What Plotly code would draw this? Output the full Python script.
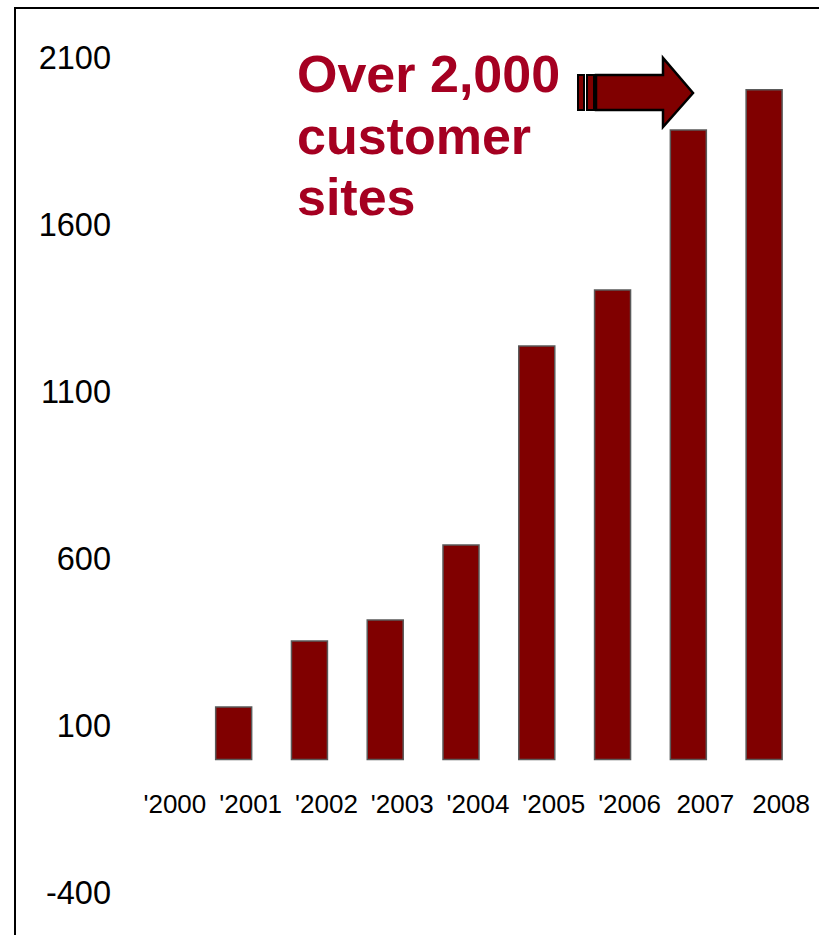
import plotly.graph_objects as go

years = ["'2000", "'2001", "'2002", "'2003", "'2004", "'2005", "'2006", "2007", "2008"]
sites = [0, 157, 355, 418, 642, 1238, 1406, 1885, 2005]
y_ticks = [2100, 1600, 1100, 600, 100, -400]
note_lines = ["Over 2,000", "customer", "sites"]

W, H = 819, 935
L, R, T, B = 120, 17, 10, 0
PW, PH = W - L - R, H - T - B

def px(x):
    return (x - L) / PW

def py(y):
    return (H - B - y) / PH

fig = go.Figure()
fig.add_trace(go.Bar(
    x=years, y=sites,
    marker=dict(color="#800000",
                line=dict(color="#5a5a5a", width=[0 if v == 0 else 1.5 for v in sites])),
    width=0.475,
))

fig.update_layout(
    width=W, height=H,
    margin=dict(l=L, r=R, t=T, b=B),
    paper_bgcolor="white", plot_bgcolor="white",
    showlegend=False,
    font=dict(family="Liberation Sans, Arial, sans-serif", color="black"),
    xaxis=dict(type="category", range=[-0.5, 8.5], showgrid=False, showline=False,
               zeroline=False, ticks="", anchor="free", position=py(786),
               tickfont=dict(size=26), ticklabelshift=17),
    yaxis=dict(range=[-525.4, 2244.0], tickvals=y_ticks, ticktext=[str(v) for v in y_ticks],
               showgrid=False, showline=False, zeroline=False, ticks="",
               tickfont=dict(size=32.5), ticklabelstandoff=8),
)

# frame
fig.add_shape(type="rect", xref="paper", yref="paper",
              x0=px(15), x1=px(W + 40), y0=py(H + 40), y1=py(8),
              line=dict(color="black", width=2), fillcolor="rgba(0,0,0,0)", layer="above")

# annotation text
for txt, yc in zip(note_lines, [74, 136, 197]):
    fig.add_annotation(xref="paper", yref="paper", x=px(295), y=py(yc),
                       xanchor="left", yanchor="middle", showarrow=False,
                       text=txt, font=dict(size=52, color="#A50021",
                                           family="Liberation Sans, Arial, sans-serif", weight="bold"))

# block arrow
def P(x, y):
    return f"{px(x)},{py(y)}"

arrow_path = ("M " + P(596, 75) + " L " + P(663, 75) + " L " + P(663, 58) + " L " + P(693, 93)
              + " L " + P(663, 127) + " L " + P(663, 110) + " L " + P(596, 110) + " Z")
fig.add_shape(type="path", xref="paper", yref="paper", path=arrow_path,
              fillcolor="#800000", line=dict(color="black", width=2.5), layer="above")
for x0, x1 in [(578, 584), (587, 594)]:
    fig.add_shape(type="rect", xref="paper", yref="paper",
                  x0=px(x0), x1=px(x1), y0=py(110), y1=py(75),
                  fillcolor="#800000", line=dict(color="black", width=2), layer="above")

fig.write_html("out.html")
